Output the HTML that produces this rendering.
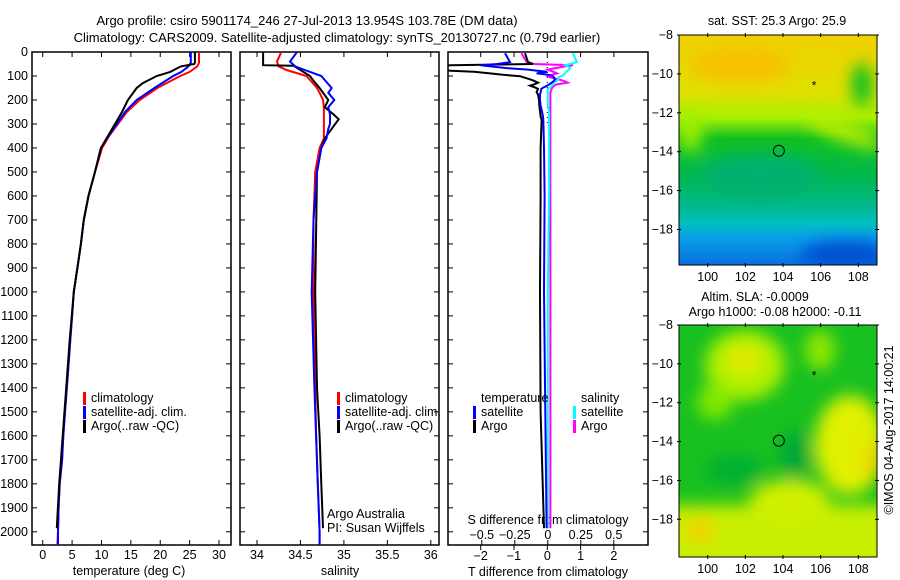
<!DOCTYPE html>
<html><head><meta charset="utf-8"><style>
body{margin:0;background:#fff;}
svg{display:block;font-family:"Liberation Sans",sans-serif;}
</style></head><body>
<svg id="fig" width="900" height="580" viewBox="0 0 900 580" xmlns="http://www.w3.org/2000/svg">
<defs>
<clipPath id="c1"><rect x="32" y="52" width="199" height="493"/></clipPath>
<clipPath id="c2"><rect x="240" y="52" width="199" height="493"/></clipPath>
<clipPath id="c3"><rect x="448" y="52" width="200" height="493"/></clipPath>
<clipPath id="m1c"><rect x="679" y="35" width="198" height="230"/></clipPath>
<clipPath id="m2c"><rect x="679" y="325" width="198" height="232"/></clipPath>
<filter id="bl" x="-50%" y="-50%" width="200%" height="200%"><feGaussianBlur stdDeviation="8"/></filter>
<linearGradient id="sstg" x1="0" y1="0" x2="0" y2="1">
<stop offset="0" stop-color="#f0d000"/>
<stop offset="0.25" stop-color="#e0e000"/>
<stop offset="0.36" stop-color="#a8f000"/>
<stop offset="0.45" stop-color="#10c020"/>
<stop offset="0.62" stop-color="#00b850"/>
<stop offset="0.75" stop-color="#00b890"/>
<stop offset="0.82" stop-color="#00c0c0"/>
<stop offset="0.88" stop-color="#08a0e8"/>
<stop offset="1" stop-color="#0870e0"/>
</linearGradient>
</defs>
<text x="307" y="25" font-size="13" text-anchor="middle">Argo profile: csiro 5901174_246 27-Jul-2013 13.954S 103.78E (DM data)</text>
<text x="337" y="42" font-size="13" text-anchor="middle">Climatology: CARS2009. Satellite-adjusted climatology: synTS_20130727.nc (0.79d earlier)</text>

<g clip-path="url(#m1c)">
<rect x="679" y="35" width="198" height="230" fill="url(#sstg)"/>
<g filter="url(#bl)">
<ellipse cx="740" cy="65" rx="50" ry="18" fill="#f8c000"/>
<ellipse cx="690" cy="130" rx="12" ry="22" fill="#a0f000"/>
<ellipse cx="845" cy="132" rx="40" ry="9" fill="#c0f000" transform="rotate(20 845 132)"/>
<ellipse cx="862" cy="85" rx="10" ry="22" fill="#00c020"/>
<ellipse cx="760" cy="175" rx="60" ry="20" fill="#00b070"/>
<ellipse cx="845" cy="255" rx="45" ry="14" fill="#0050d0"/>
</g>
</g>
<g clip-path="url(#m2c)">
<rect x="679" y="325" width="198" height="232" fill="#18c020"/>
<g filter="url(#bl)">
<ellipse cx="745" cy="365" rx="40" ry="35" fill="#b0f000"/>
<ellipse cx="744" cy="360" rx="16" ry="14" fill="#e8e800"/>
<ellipse cx="820" cy="350" rx="15" ry="20" fill="#90e800"/>
<ellipse cx="715" cy="402" rx="18" ry="18" fill="#80e800"/>
<rect x="660" y="505" width="240" height="70" fill="#c8f000"/>
<ellipse cx="790" cy="500" rx="40" ry="20" fill="#d0f000"/>
<ellipse cx="850" cy="445" rx="35" ry="50" fill="#e0f000"/>
<ellipse cx="872" cy="460" rx="10" ry="20" fill="#f0d800"/>
<ellipse cx="700" cy="530" rx="14" ry="14" fill="#f0d000"/>
<ellipse cx="735" cy="470" rx="30" ry="15" fill="#00b030"/>
<ellipse cx="795" cy="455" rx="15" ry="25" fill="#00a838"/>
</g>
</g>
<g id="maps"></g>
<g id="panels"></g>
</svg>
<script>
// ---- data ----
const depths = [0,45,60,83,100,150,200,250,300,350,400,500,600,700,800,900,1000,1100,1200,1300,1400,1500,1600,1700,1800,1900,2000,2055];
const tempClim = [26.6,26.6,26.3,25.0,23.4,19.5,16.5,14.3,12.8,11.3,10.1,8.9,7.8,7.0,6.5,5.9,5.3,5.0,4.7,4.4,4.1,3.8,3.5,3.3,2.9,2.7,2.6,2.5];
const tempSat = [25.2,25.2,24.8,23.6,22.2,19.0,16.0,14.0,12.6,11.2,9.9,8.9,7.8,7.0,6.5,5.9,5.3,5.0,4.7,4.4,4.1,3.8,3.5,3.3,2.9,2.7,2.6,2.6];
const argoDepths = [0,45,50,60,83,100,130,150,200,250,300,350,400,500,600,700,800,900,1000,1200,1400,1600,1800,1985];
const tempArgo = [25.9,25.9,25.8,23.5,21.7,19.4,17.0,16.0,14.5,13.5,12.3,11.1,9.9,8.9,7.8,7.0,6.5,5.9,5.3,4.6,4.0,3.4,2.8,2.4];
const salDepths = [0,40,60,75,100,150,170,200,230,260,280,300,320,360,400,500,700,1000,1400,1600,1800,2000,2055];
const salClim = [34.28,34.23,34.25,34.34,34.57,34.69,34.72,34.76,34.77,34.77,34.77,34.77,34.77,34.77,34.72,34.67,34.65,34.65,34.67,34.68,34.7,34.72,34.72];
const salSat = [34.46,34.38,34.44,34.55,34.74,34.86,34.82,34.89,34.82,34.84,34.84,34.84,34.82,34.8,34.74,34.69,34.65,34.63,34.66,34.68,34.7,34.72,34.72];
const salArgoDepths = [0,55,57,100,120,150,200,230,260,280,320,360,400,500,1000,1400,1600,1800,1985];
const salArgo = [34.07,34.07,34.42,34.61,34.65,34.72,34.82,34.78,34.88,34.94,34.86,34.78,34.74,34.69,34.67,34.69,34.72,34.74,34.76];
const dDepths = [5,42,50,55,60,67,73,78,82,89,95,101,106,114,120,128,135,140,149,154,168,177,201,223,247,269,283,400,600,1000,1500,1985];
const dTsat = [-1.27,-1.12,-1.5,-2.0,-1.7,-1.22,-0.62,-0.3,0,-0.32,0.05,0.17,0.2,0.23,0.2,0.13,0.05,0,-0.13,-0.18,-0.2,-0.22,-0.22,-0.2,-0.16,-0.13,-0.12,-0.1,-0.08,-0.1,-0.06,-0.02];
const dTargo = [-0.67,-0.58,-0.43,-2.92,-3.2,-3.2,-3.2,-2.9,-2.2,-1.72,-1.33,-0.82,-0.7,-0.52,-0.4,-0.28,-0.4,-0.52,-0.35,-0.28,-0.32,-0.28,-0.25,-0.24,-0.22,-0.2,-0.17,-0.2,-0.2,-0.22,-0.2,-0.1];
const dSsat = [0.19,0.22,0.17,0.13,0.15,0.17,0.16,0.15,0.14,0.13,0.12,0.1,0.08,0.08,0.07,0.05,0.03,0.03,0.02,0.0,0.0,0.0,0.0,0.0,0.01,0.01,0.01,0.01,0.01,0.0,0.0,0.0];
const dSargo = [-0.2,-0.16,-0.1,0.19,0.13,0.06,0.0,0.02,0.04,0.07,0.03,0.0,0.02,0.08,0.12,0.15,0.07,0.05,0.03,0.03,0.02,0.02,0.02,0.02,0.02,0.02,0.02,0.02,0.02,0.02,0.02,0.02];
const depthTicks = [0,100,200,300,400,500,600,700,800,900,1000,1100,1200,1300,1400,1500,1600,1700,1800,1900,2000];
const tTicks = [0,5,10,15,20,25,30];
const sTicks = [34,34.5,35,35.5,36];
const sTickLabels = ["34","34.5","35","35.5","36"];
const dtTicks = [-2,-1,0,1,2];
const dsTicks = [-0.5,-0.25,0,0.25,0.5];
const dsTickLabels = ["\u22120.5","\u22120.25","0","0.25","0.5"];
const latTicks = [-8,-10,-12,-14,-16,-18];
const lonTicks = [100,102,104,106,108];
const argoLon = 103.78, argoLat = -13.954;
const markLon = 105.65, markLat = -10.5;

// ---- scales ----
const yD = d => 52 + d*0.2399;
const xT = t => 42.7 + t*5.877;
const xS = s => 257 + (s-34)*86.9;
const xdT = v => 547.3 + v*33.3;
const xdS = v => 547.8 + v*132;
const mX = lon => 707.7 + (lon-100)*18.83;
const m1Y = lat => 35 + (-8-lat)*19.45;
const m2Y = lat => 325 + (-8-lat)*19.43;

const NS = "http://www.w3.org/2000/svg";
const P = document.getElementById('panels');
function mk(tag, attrs, parent){const e=document.createElementNS(NS,tag);for(const k in attrs)e.setAttribute(k,attrs[k]);(parent||P).appendChild(e);return e;}
function txt(x,y,s,anchor,parent,fs){const e=mk('text',{x:x,y:y,'font-size':fs||12.5,'text-anchor':anchor||'start'},parent);e.textContent=s;return e;}
function line(xs,ds,xf,color,clip,name){
  const pts=xs.map((v,i)=>xf(v).toFixed(1)+','+yD(ds[i]).toFixed(1)).join(' ');
  const e=mk('polyline',{points:pts,fill:'none',stroke:color,'stroke-width':2,'clip-path':'url(#'+clip+')'});
  
  
}

const frames=[[32,231,'c1'],[240,439,'c2'],[448,648,'c3']];
frames.forEach((f,i)=>{
  const r=mk('rect',{x:f[0],y:52,width:f[1]-f[0],height:493,fill:'none',stroke:'#000','stroke-width':1.5});
  
  
  depthTicks.forEach(d=>{
    mk('line',{x1:f[0],x2:f[0]+5,y1:yD(d),y2:yD(d),stroke:'#000'});
    mk('line',{x1:f[1]-5,x2:f[1],y1:yD(d),y2:yD(d),stroke:'#000'});
  });
});
depthTicks.forEach(d=>{
  const t=txt(28,yD(d)+4,String(d),'end');
  
  
});
tTicks.forEach(t=>{
  mk('line',{x1:xT(t),x2:xT(t),y1:545,y2:540,stroke:'#000'});
  mk('line',{x1:xT(t),x2:xT(t),y1:52,y2:57,stroke:'#000'});
  const e=txt(xT(t),559,String(t),'middle');
  
  
});
let e=txt(129,575,'temperature (deg C)','middle');


sTicks.forEach((s,i)=>{
  mk('line',{x1:xS(s),x2:xS(s),y1:545,y2:540,stroke:'#000'});
  mk('line',{x1:xS(s),x2:xS(s),y1:52,y2:57,stroke:'#000'});
  const e=txt(xS(s),559,sTickLabels[i],'middle');
  
  
});
e=txt(340,575,'salinity','middle');


dtTicks.forEach(v=>{
  mk('line',{x1:xdT(v),x2:xdT(v),y1:545,y2:550,stroke:'#000'});
  mk('line',{x1:xdT(v),x2:xdT(v),y1:52,y2:57,stroke:'#000'});
  const e=txt(xdT(v),560,v<0?'\u2212'+(-v):String(v),'middle');
  
  
});
e=txt(548,576,'T difference from climatology','middle');


dsTicks.forEach((v,i)=>{
  mk('line',{x1:xdS(v),x2:xdS(v),y1:545,y2:540,stroke:'#000'});
  const e=txt(xdS(v),539,dsTickLabels[i],'middle');
  
  
});
e=txt(548,524,'S difference from climatology','middle');


mk('line',{x1:xdT(0),x2:xdT(0),y1:52,y2:yD(300),stroke:'#000','stroke-dasharray':'1,4'});

line(tempClim,depths,xT,'#f00','c1','temp-climatology-line');
line(tempSat,depths,xT,'#00f','c1','temp-satellite-line');
line(tempArgo,argoDepths,xT,'#000','c1','temp-argo-line');
line(salClim,salDepths,xS,'#f00','c2','sal-climatology-line');
line(salArgo,salArgoDepths,xS,'#000','c2','sal-argo-line');
line(salSat,salDepths,xS,'#00f','c2','sal-satellite-line');
line(dSargo,dDepths,xdS,'#f0f','c3','sdiff-argo-line');
line(dSsat,dDepths,xdS,'#0ff','c3','sdiff-satellite-line');
line(dTargo,dDepths,xdT,'#000','c3','tdiff-argo-line');
line(dTsat,dDepths,xdT,'#00f','c3','tdiff-satellite-line');

function leg(x,y,color,label,name){
  const g=mk('g',{});
  
  
  mk('rect',{x:x,y:y-10,width:3,height:13,fill:color},g);
  txt(x+8,y,label,'start',g,12.5);
}
leg(83,402,'#f00','climatology','legend-entry-climatology');
leg(83,416,'#00f','satellite-adj. clim.','legend-entry-satellite-adj');
leg(83,430,'#000','Argo(..raw -QC)','legend-entry-argo');
leg(337,402,'#f00','climatology','legend-entry-climatology-sal');
leg(337,416,'#00f','satellite-adj. clim.','legend-entry-satellite-adj-sal');
leg(337,430,'#000','Argo(..raw -QC)','legend-entry-argo-sal');
e=txt(481,402,'temperature','start',P,12.5);


e=txt(581,402,'salinity','start',P,12.5);


leg(473,416,'#00f','satellite','legend-entry-tdiff-satellite');
leg(473,430,'#000','Argo','legend-entry-tdiff-argo');
leg(573,416,'#0ff','satellite','legend-entry-sdiff-satellite');
leg(573,430,'#f0f','Argo','legend-entry-sdiff-argo');
e=txt(327,518,'Argo Australia','start',P,12.5);


e=txt(327,532,'PI: Susan Wijffels','start',P,12.5);



const M=document.getElementById('maps');
[[m1Y,35,265,'sst'],[m2Y,325,557,'sla']].forEach(([fy,top,bot,nm])=>{
  const r=mk('rect',{x:679,y:top,width:198,height:bot-top,fill:'none',stroke:'#000'},M);
  
  
  latTicks.forEach(l=>{
    mk('line',{x1:677,x2:681,y1:fy(l),y2:fy(l),stroke:'#000'},M);
    mk('line',{x1:875,x2:879,y1:fy(l),y2:fy(l),stroke:'#000'},M);
    const t=txt(673,fy(l)+4,'\u2212'+(-l),'end',M);
    
    
  });
  lonTicks.forEach(l=>{
    mk('line',{x1:mX(l),x2:mX(l),y1:top-2,y2:top+2,stroke:'#000'},M);
    mk('line',{x1:mX(l),x2:mX(l),y1:bot-2,y2:bot+2,stroke:'#000'},M);
    const t=txt(mX(l),bot+16,String(l),'middle',M);
    
    
  });
  const c=mk('circle',{cx:mX(argoLon),cy:fy(argoLat),r:5.5,fill:'none',stroke:'#000'},M);
  
  
  const s=txt(mX(markLon),fy(markLat)+6,'*','middle',M,12);
  
  
});
e=txt(777,25,'sat. SST: 25.3 Argo: 25.9','middle',M);


e=txt(755,301,'Altim. SLA: -0.0009','middle',M);


e=txt(775,316,'Argo h1000: -0.08 h2000: -0.11','middle',M);


e=txt(0,0,'\u00A9IMOS 04-Aug-2017 14:00:21','middle',M);
e.setAttribute('transform','translate(893,430) rotate(-90)');


</script>
</body></html>
